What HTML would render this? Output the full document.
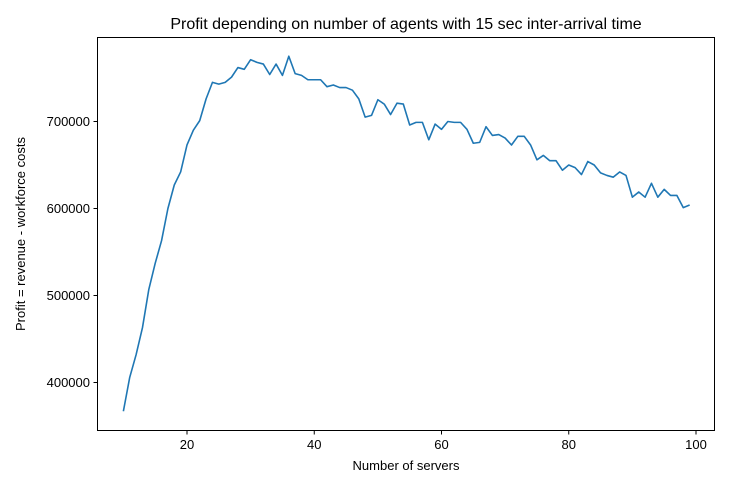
<!DOCTYPE html>
<html><head><meta charset="utf-8"><style>
body{margin:0;background:#fff;}
svg text{font-family:"Liberation Sans","DejaVu Sans",sans-serif;fill:#000;}
</style></head><body>
<svg id="chart" width="730" height="488">
<rect width="730" height="488" fill="#fff"/>
<text x="406" y="29" font-size="16" text-anchor="middle">Profit depending on number of agents with 15 sec inter-arrival time</text>
<g id="xticks"></g>
<g id="yticks"></g>
<path id="line" fill="none" stroke="#1f77b4" stroke-width="1.6" stroke-linejoin="round"/>
<rect x="97.5" y="37.5" width="617" height="393" fill="none" stroke="#000" stroke-width="1"/>
<text x="406" y="470" font-size="13" text-anchor="middle">Number of servers</text>
<text x="0" y="0" font-size="13" text-anchor="middle" transform="translate(25,234) rotate(-90)">Profit = revenue - workforce costs</text>
</svg>
<script>
const servers = [];
for (let i = 10; i <= 99; i++) servers.push(i);
const profit = [367000,406000,432000,463000,507000,537000,563000,600000,627000,642000,
673000,690000,701000,726000,745000,743000,745000,751000,762000,760000,
771000,768000,766000,754000,766000,753000,775000,755000,753000,748000,
748000,748000,740000,742000,739000,739000,736000,726000,705000,707000,
725000,720000,708000,721000,720000,696000,699000,699000,679000,697000,
691000,700000,699000,699000,691000,675000,676000,694000,684000,685000,
681000,673000,683000,683000,673000,656000,661000,655000,655000,644000,
650000,647000,639000,654000,650000,641000,638000,636000,642000,638000,
613000,619000,613000,629000,613000,622000,615000,615000,601000,604000];
const xTicks = [20,40,60,80,100];
const yTicks = [400000,500000,600000,700000];
const NS='http://www.w3.org/2000/svg';
function xs(v){return 59.75 + v*6.3625;}
function ys(v){return 382.5 - (v-400000)*0.00087;}
let d='';
servers.forEach((s,i)=>{d+=(i?'L':'M')+xs(s).toFixed(2)+','+ys(profit[i]).toFixed(2);});
document.getElementById('line').setAttribute('d',d);
const gx=document.getElementById('xticks');
xTicks.forEach(t=>{
  const l=document.createElementNS(NS,'line');
  
  
  l.setAttribute('x1',xs(t));l.setAttribute('x2',xs(t));l.setAttribute('y1',430.5);l.setAttribute('y2',434.5);l.setAttribute('stroke','#000');
  gx.appendChild(l);
  const tx=document.createElementNS(NS,'text');
  
  
  tx.setAttribute('x',xs(t));tx.setAttribute('y',449);tx.setAttribute('font-size','13');tx.setAttribute('text-anchor','middle');
  tx.textContent=t;gx.appendChild(tx);
});
const gy=document.getElementById('yticks');
yTicks.forEach(t=>{
  const l=document.createElementNS(NS,'line');
  
  
  l.setAttribute('x1',93.5);l.setAttribute('x2',97.5);l.setAttribute('y1',ys(t));l.setAttribute('y2',ys(t));l.setAttribute('stroke','#000');
  gy.appendChild(l);
  const tx=document.createElementNS(NS,'text');
  
  
  tx.setAttribute('x',90);tx.setAttribute('y',ys(t)+4.5);tx.setAttribute('font-size','13');tx.setAttribute('text-anchor','end');
  tx.textContent=t;gy.appendChild(tx);
});
</script>
</body></html>
